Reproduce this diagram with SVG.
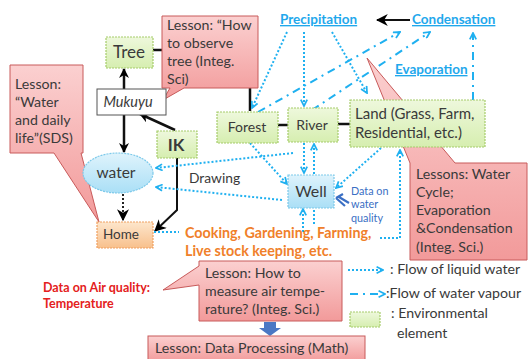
<svg xmlns="http://www.w3.org/2000/svg" width="529" height="359" viewBox="0 0 529 359">
<defs>
<linearGradient id="pink" x1="0" y1="0" x2="0" y2="1"><stop offset="0" stop-color="#fbd0d0"/><stop offset="1" stop-color="#f29a9a"/></linearGradient>
<linearGradient id="green" x1="0" y1="0" x2="0" y2="1"><stop offset="0" stop-color="#eef8dc"/><stop offset="1" stop-color="#d6eeb0"/></linearGradient>
<linearGradient id="orange" x1="0" y1="0" x2="0" y2="1"><stop offset="0" stop-color="#fde6cc"/><stop offset="1" stop-color="#f8c08c"/></linearGradient>
<linearGradient id="blue" x1="0" y1="0" x2="0" y2="1"><stop offset="0" stop-color="#dff3fc"/><stop offset="1" stop-color="#aadff6"/></linearGradient>
<marker id="ab" viewBox="0 0 10 10" refX="9" refY="5" markerWidth="4" markerHeight="4" orient="auto" markerUnits="strokeWidth"><path d="M0,0 L10,5 L0,10 L3,5 Z" fill="#000"/></marker>
<marker id="abt" viewBox="0 0 10 10" refX="9" refY="5" markerWidth="6" markerHeight="6" orient="auto" markerUnits="strokeWidth"><path d="M0,0 L10,5 L0,10 L3,5 Z" fill="#000"/></marker>
<marker id="au" viewBox="0 0 10 10" refX="9" refY="5" markerWidth="4" markerHeight="4" orient="auto" markerUnits="strokeWidth"><path d="M1,1 L9,5 L1,9" fill="none" stroke="#1fb0f0" stroke-width="2.2"/></marker>
</defs>
<style>
text{font-family:Lato,"Liberation Sans",sans-serif;fill:#3a3a3a}
.c{fill:url(#pink);stroke:#c85a5a;stroke-width:1}
.g{fill:url(#green);stroke:#a6cc6a;stroke-width:1.2;stroke-dasharray:2 1}
.k{stroke:#111;stroke-width:2.5;fill:none}
.k2{stroke:#111;stroke-width:2;fill:none}
.d{stroke:#1fb0f0;stroke-width:2;stroke-dasharray:2 2;fill:none}
.v{stroke:#1fb0f0;stroke-width:2;stroke-dasharray:8 5 2 5;fill:none}
.u{fill:#1fa8ec;font-weight:bold;font-size:13.5px;text-decoration:underline}
.n{font-size:14.2px}
.o{fill:#f0802a;font-weight:bold;font-size:14.3px}
</style>

<g id="connectors">
<line class="k" x1="153" y1="50" x2="162" y2="50"/>
<line class="k" x1="250" y1="88" x2="250" y2="111"/>
<line class="k" x1="124" y1="89" x2="124" y2="69" marker-end="url(#ab)"/>
<line class="k" x1="124" y1="115" x2="124" y2="152" marker-end="url(#ab)"/>
<line class="k" x1="175" y1="130" x2="140" y2="114" marker-end="url(#ab)"/>
<polyline class="k2" points="177,158 177,210 155,231" marker-end="url(#abt)"/>
<line stroke="#222" stroke-width="2" stroke-dasharray="2 2" x1="123" y1="194" x2="123" y2="220" marker-end="url(#abt)"/>
<line class="k" x1="278" y1="125" x2="288" y2="125"/>
<line class="k" x1="338" y1="124" x2="350" y2="124"/>
<line class="k2" x1="410" y1="20" x2="377" y2="20" marker-end="url(#abt)"/>
<line class="d" x1="287" y1="32" x2="252" y2="108" marker-end="url(#au)"/>
<line class="d" x1="304" y1="32" x2="304" y2="106" marker-end="url(#au)"/>
<line class="d" x1="332" y1="32" x2="367" y2="93" marker-end="url(#au)"/>
<line class="v" x1="258" y1="112" x2="400" y2="32" marker-end="url(#au)"/>
<line class="v" x1="312" y1="110" x2="430" y2="32" marker-end="url(#au)"/>
<line class="v" x1="473" y1="100" x2="473" y2="33" marker-end="url(#au)"/>
<line class="d" x1="304" y1="143" x2="304" y2="173" marker-end="url(#au)"/>
<line class="d" x1="314" y1="174" x2="314" y2="144" marker-end="url(#au)"/>
<line class="d" x1="250" y1="143" x2="287" y2="184" marker-end="url(#au)"/>
<line class="d" x1="381" y1="148" x2="336" y2="188" marker-end="url(#au)"/>
<line class="d" x1="293" y1="153" x2="156" y2="168" marker-end="url(#au)"/>
<line class="d" x1="282" y1="200" x2="156" y2="187" marker-end="url(#au)"/>
<line class="d" x1="303" y1="232" x2="303" y2="209" marker-end="url(#au)"/>
<line class="d" x1="314" y1="210" x2="314" y2="224"/>
<line class="d" x1="154" y1="232" x2="179" y2="232"/>
<polyline class="d" points="380,238 400,238 400,150" marker-end="url(#au)"/>
<path d="M349,203 L339,197 M345,206 L336,198 M343,194 L336,198" stroke="#3a6fc4" stroke-width="2.2" fill="none"/>
<path d="M264,322 H276 V328 H281 L270,336 L259,328 H264 Z" fill="#4a78c4"/>
</g>

<g id="lesson-tree"><path class="c" d="M162,16 H258 V88 H184 L163,100 L170,88 H162 Z"/>
<text x="167" y="30" class="n">Lesson: “How</text><text x="167" y="48" class="n">to observe</text><text x="167" y="66" class="n">tree (Integ.</text><text x="167" y="84" class="n">Sci)</text></g>
<g id="lesson-water"><path class="c" d="M10,65 H83 V153 H81 L99,222 L54,153 H10 Z"/>
<text x="15" y="89" class="n">Lesson:</text><text x="15" y="107" class="n">“Water</text><text x="15" y="125" class="n">and daily</text><text x="15" y="143" class="n">life”(SDS)</text></g>
<g id="lesson-cycle"><path class="c" d="M410,163 L367,58 L455,163 H527 V260 H410 Z"/>
<text x="416" y="179" class="n">Lessons: Water</text><text x="416" y="197" class="n">Cycle;</text><text x="416" y="215" class="n">Evaporation</text><text x="416" y="233" class="n">&amp;Condensation</text><text x="416" y="252" class="n">(Integ. Sci.)</text></g>
<g id="lesson-air"><path class="c" d="M199,261 H342 V321 H199 V285 L163,290 L199,266 Z"/>
<text x="205" y="278" class="n">Lesson: How to</text><text x="205" y="296" class="n">measure air tempe-</text><text x="205" y="314" class="n">rature? (Integ. Sci.)</text></g>
<g id="lesson-math"><rect class="c" x="148" y="336" width="217" height="26"/>
<text x="155" y="353" class="n">Lesson: Data Processing (Math)</text></g>

<g id="tree"><rect class="g" x="106" y="37" width="47" height="31"/><text x="129" y="58" font-size="17" text-anchor="middle">Tree</text></g>
<g id="mukuyu"><rect x="97" y="89" width="69" height="26" fill="#fff" stroke="#555" stroke-width="1"/><text x="128" y="107" font-size="14.5" font-style="italic" text-anchor="middle">Mukuyu</text></g>
<g id="ik"><rect class="g" x="157" y="131" width="40" height="27"/><text x="176" y="151" font-size="17" font-weight="bold" text-anchor="middle">IK</text></g>
<g id="water"><ellipse cx="118" cy="173" rx="35" ry="20" fill="url(#blue)" stroke="#7cc9ea" stroke-width="1.2" stroke-dasharray="2 1"/><text x="116" y="178" font-size="15.5" text-anchor="middle">water</text></g>
<g id="home"><rect x="97" y="222" width="56" height="26" fill="url(#orange)" stroke="#f0a060" stroke-width="1.2" stroke-dasharray="2 1"/><text x="103" y="239" font-size="13.5">Home</text></g>
<g id="forest"><rect class="g" x="217" y="112" width="61" height="31"/><text x="247" y="132" font-size="14" text-anchor="middle">Forest</text></g>
<g id="river"><rect class="g" x="288" y="108" width="50" height="34"/><text x="312" y="130" font-size="14" text-anchor="middle">River</text></g>
<g id="land"><rect class="g" x="350" y="100" width="135" height="47"/><text x="355" y="119" font-size="15">Land (Grass, Farm,</text><text x="355" y="138" font-size="15">Residential, etc.)</text></g>
<g id="well"><rect x="288" y="175" width="46" height="33" fill="url(#blue)" stroke="#7cc9ea" stroke-width="1.2" stroke-dasharray="2 1"/><text x="311" y="197" font-size="16" text-anchor="middle">Well</text></g>
<g id="precipitation"><text x="280" y="24" class="u">Precipitation</text></g>
<g id="condensation"><text x="412" y="24" class="u">Condensation</text></g>
<g id="evaporation"><text x="395" y="74" class="u">Evaporation</text></g>

<g id="labels">
<text x="189" y="183" font-size="13.8">Drawing</text>
<text style="fill:#3a6fc4;font-size:10.8px"><tspan x="351" y="195">Data on</tspan><tspan x="351" y="208.3">water</tspan><tspan x="351" y="221.6">quality</tspan></text>
<text x="185" y="238" class="o">Cooking, Gardening, Farming,</text>
<text x="185" y="256" class="o">Live stock keeping, etc.</text>
<text style="fill:#e42020;font-size:12.5px;font-weight:bold"><tspan x="43" y="292">Data on Air quality:</tspan><tspan x="43" y="308">Temperature</tspan></text>
</g>

<g id="legend">
<line class="d" x1="348" y1="270" x2="383" y2="270" marker-end="url(#au)"/>
<text x="390" y="274" class="n">: Flow of liquid water</text>
<line class="v" x1="350" y1="294" x2="385" y2="294" marker-end="url(#au)"/>
<text x="386" y="298" class="n">:Flow of water vapour</text>
<rect class="g" x="350" y="312" width="30" height="15"/>
<text x="391" y="318" class="n">: Environmental</text>
<text x="397" y="338" class="n">element</text>
</g>
</svg>
